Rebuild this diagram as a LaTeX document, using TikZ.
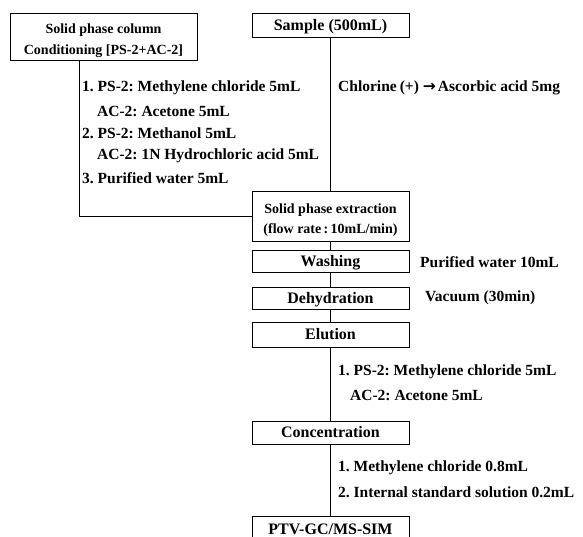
\documentclass[tikz,border=0pt]{standalone}
\usepackage{fontspec}
\setmainfont{Liberation Serif}
\newfontfamily\symfont{DejaVu Sans}
\begin{document}
\frenchspacing
\begin{tikzpicture}[x=1pt,y=-1pt,
  font=\bfseries\fontsize{15.5}{18}\selectfont,
  box/.style={draw,line width=0.8pt,minimum width=157pt,inner sep=0pt,align=center,text height=10.6pt,text depth=0pt,font=\bfseries\fontsize{16}{18}\selectfont},
  twobox/.style={draw,line width=0.8pt,minimum width=157pt,inner sep=0pt,align=center,font=\bfseries\fontsize{14}{21}\selectfont},
  lbl/.style={anchor=west,inner sep=0pt},
  conn/.style={line width=0.8pt}]
\useasboundingbox (0,0) rectangle (583,537);
\node[twobox,minimum width=187pt,minimum height=47pt] (cond) at (103.5,36.5) {\rule{0pt}{18pt}Solid phase column\\Conditioning [PS-2+AC-2]};
\node[box,minimum height=24pt] (sample) at (330.5,25) {Sample (500mL)};
\node[twobox,minimum height=50pt,font=\bfseries\fontsize{14}{20}\selectfont] (spe) at (330.5,216) {\rule{0pt}{17pt}Solid phase extraction\\(flow rate\,:\,10mL/min)};
\node[box,minimum height=22pt] (wash) at (330.5,261) {Washing};
\node[box,minimum height=22pt] (dehyd) at (330.5,298) {Dehydration};
\node[box,minimum height=25pt] (elu) at (330.5,334.5) {Elution};
\node[box,minimum height=23pt] (conc) at (330.5,432.5) {Concentration};
\node[box,minimum height=25pt,anchor=north] (ptv) at (330.5,516) {PTV-GC/MS-SIM};
\coordinate (c1) at (79,60);
\coordinate (c2) at (79,216);
\draw[conn] (c1) -- (c2) -- (c2 -| spe.west);
\draw[conn] (sample) -- (spe);
\draw[conn] (spe) -- (wash);
\draw[conn] (wash) -- (dehyd);
\draw[conn] (dehyd) -- (elu);
\draw[conn] (elu) -- (conc);
\draw[conn] (conc) -- (ptv);
\node[lbl] (t1) at (82,88) {1. PS-2: Methylene chloride 5mL};
\node[lbl] (t2) at (97,111) {AC-2: Acetone 5mL};
\node[lbl] (t3) at (82,133) {2. PS-2: Methanol 5mL};
\node[lbl] (t4) at (97,156) {AC-2: 1N Hydrochloric acid 5mL};
\node[lbl] (t5) at (82,178) {3. Purified water 5mL};
\node[lbl] (cl) at (338,88) {Chlorine\hspace{3pt}(+)\hspace{4pt}{\symfont\bfseries →}\hspace{2pt}Ascorbic acid 5mg};
\node[lbl] (pw) at (420,262) {Purified water 10mL};
\node[lbl] (vac) at (425,298) {Vacuum (30min)};
\node[lbl] (e1) at (338,372) {1. PS-2: Methylene chloride 5mL};
\node[lbl] (e2) at (350,395) {AC-2: Acetone 5mL};
\node[lbl] (m1) at (338,468) {1. Methylene chloride 0.8mL};
\node[lbl] (m2) at (338,492) {2. Internal standard solution 0.2mL};
\end{tikzpicture}
\end{document}
